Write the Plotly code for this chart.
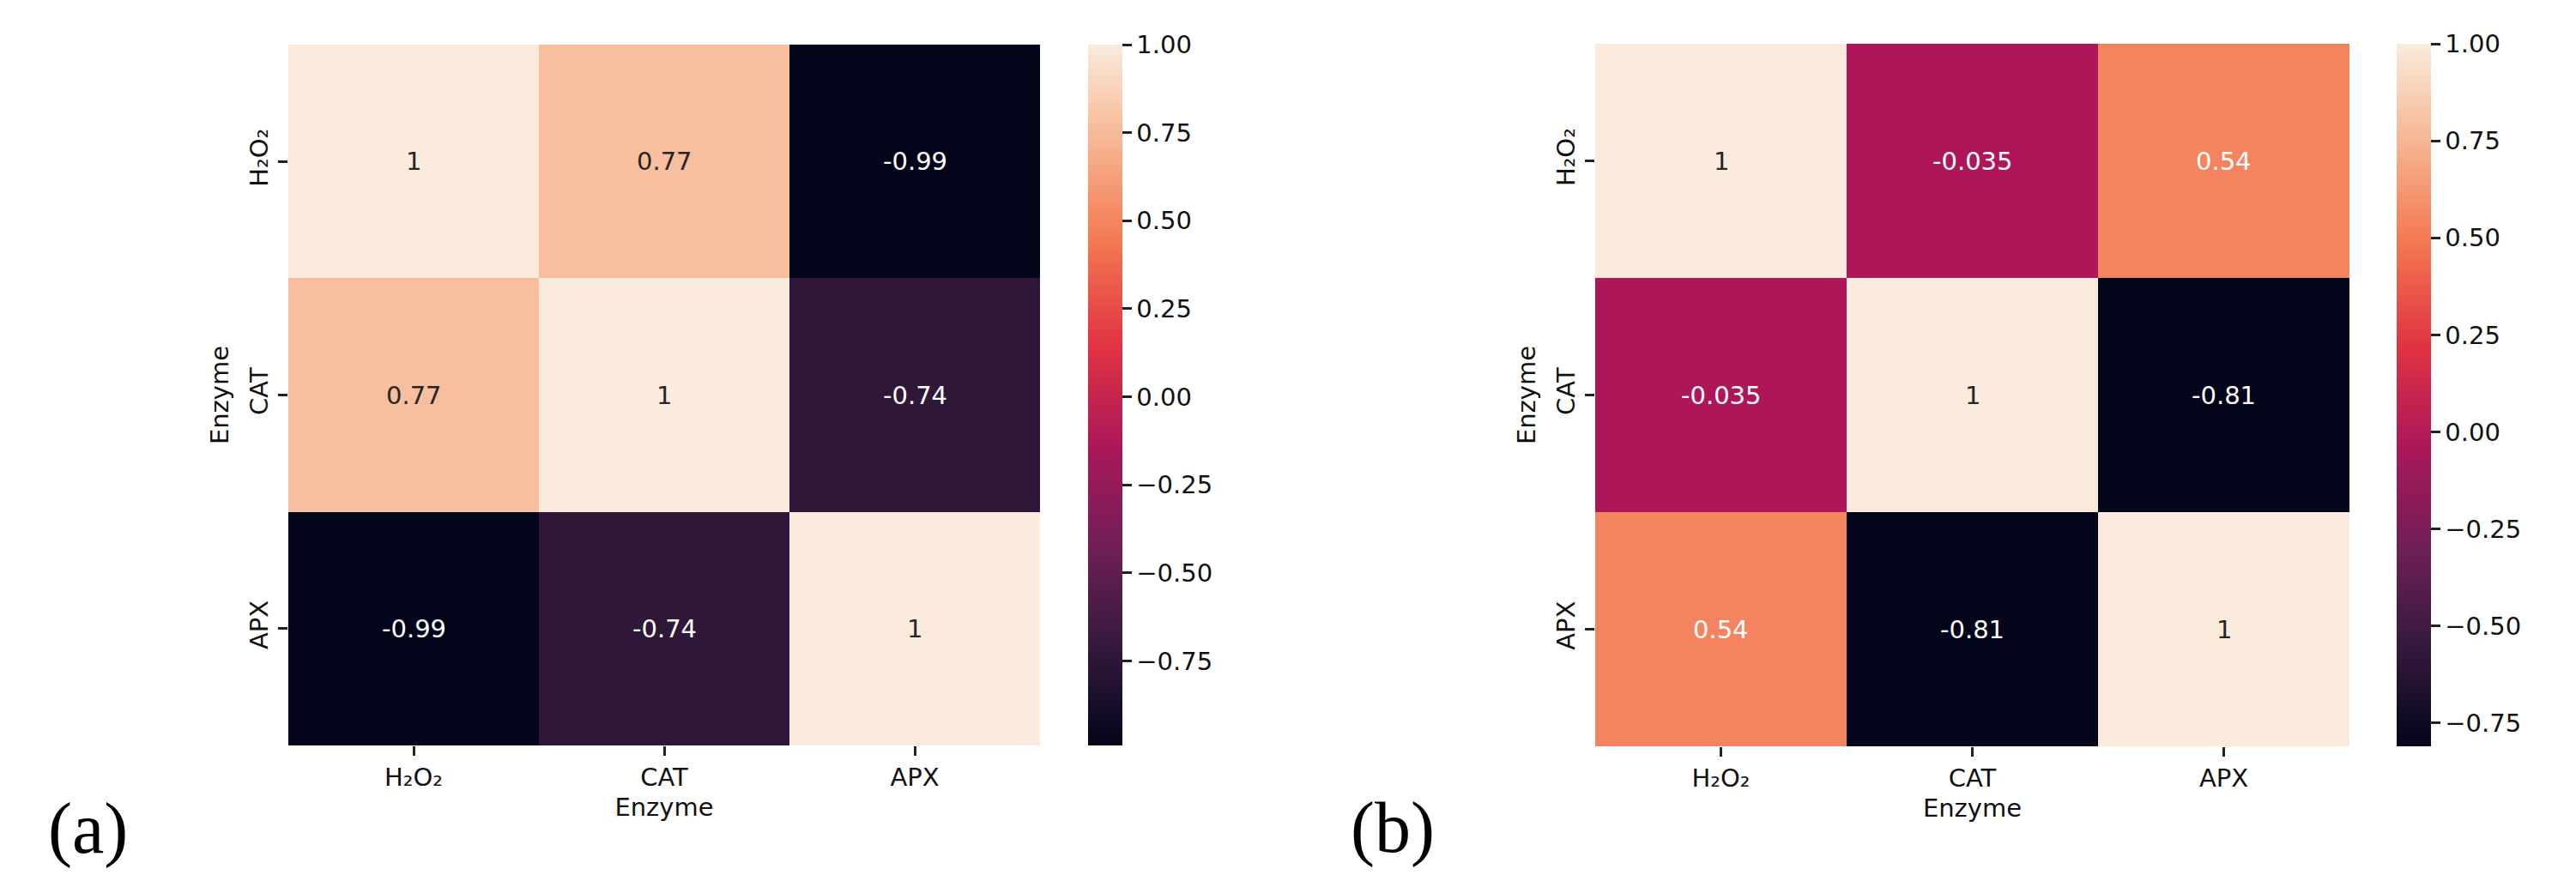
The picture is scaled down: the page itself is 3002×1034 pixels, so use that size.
import plotly.graph_objects as go

# ---------------- data ----------------
enzymes = ["H₂O₂", "CAT", "APX"]
corr_a = [[1.0, 0.77, -0.99],
          [0.77, 1.0, -0.74],
          [-0.99, -0.74, 1.0]]
corr_b = [[1.0, -0.035, 0.54],
          [-0.035, 1.0, -0.81],
          [0.54, -0.81, 1.0]]
cbar_ticks = [-0.75, -0.5, -0.25, 0.0, 0.25, 0.5, 0.75, 1.0]
panel_labels = ["(a)", "(b)"]
axis_title = "Enzyme"

# seaborn "rocket"-like colour scale
rocket_hex = ["#03051a", "#35193e", "#701f57", "#ad1759",
              "#e13342", "#f37651", "#f6b48f", "#faebdd"]
rocket = [[i / (len(rocket_hex) - 1), c] for i, c in enumerate(rocket_hex)]

W, H = 3002, 1034
FONT = "DejaVu Sans"
FS = 29


def px(x):
    return x / W


def py(y):
    return 1 - y / H


def hex_rgb(h):
    h = h.lstrip("#")
    return [int(h[i:i + 2], 16) for i in (0, 2, 4)]


def color_at(t):
    t = min(max(t, 0.0), 1.0)
    for (t0, c0), (t1, c1) in zip(rocket[:-1], rocket[1:]):
        if t <= t1:
            f = (t - t0) / (t1 - t0) if t1 > t0 else 0
            a, b = hex_rgb(c0), hex_rgb(c1)
            return [a[k] + (b[k] - a[k]) * f for k in range(3)]
    return hex_rgb(rocket[-1][1])


def luminance(rgb):
    out = []
    for v in rgb:
        v = v / 255
        out.append(v / 12.92 if v <= 0.03928 else ((v + 0.055) / 1.055) ** 2.4)
    return 0.2126 * out[0] + 0.7152 * out[1] + 0.0722 * out[2]


def fmt_tick(v):
    s = f"{v:.2f}"
    return s.replace("-", "−")


panels = [
    dict(z=corr_a, xd=(336, 1212), yd=(52, 869), cbx=1268, lab=(103, 966)),
    dict(z=corr_b, xd=(1859, 2738), yd=(51, 870), cbx=2793, lab=(1623, 965)),
]

fig = go.Figure()
annotations = []
layout = {}

for i, p in enumerate(panels):
    n = "" if i == 0 else str(i + 1)
    z = p["z"]
    flat = [v for row in z for v in row]
    zmin, zmax = min(flat), max(flat)
    top, bot = p["yd"]
    fig.add_trace(go.Heatmap(
        z=z, x=enzymes, y=enzymes,
        xaxis="x" + n, yaxis="y" + n,
        colorscale=rocket, zmin=zmin, zmax=zmax,
        colorbar=dict(
            x=px(p["cbx"]), xanchor="left", xpad=0,
            y=py((top + bot) / 2), yanchor="middle", ypad=0,
            len=bot - top, lenmode="pixels",
            thickness=40, thicknessmode="pixels",
            outlinewidth=0,
            tickvals=cbar_ticks, ticktext=[fmt_tick(v) for v in cbar_ticks],
            ticks="outside", ticklen=11, tickwidth=2.5, tickcolor="#222",
            tickfont=dict(family=FONT, size=FS, color="#111"),
        ),
        hoverinfo="skip",
    ))
    layout["xaxis" + n] = dict(
        domain=[px(p["xd"][0]), px(p["xd"][1])], anchor="y" + n,
        showgrid=False, zeroline=False, showline=False,
        ticks="outside", ticklen=11, tickwidth=2.5, tickcolor="#222",
        tickfont=dict(family=FONT, size=FS, color="#111"),
        title=dict(text=axis_title, font=dict(family=FONT, size=FS, color="#111"), standoff=8),
        automargin=False,
    )
    layout["yaxis" + n] = dict(
        domain=[py(bot), py(top)], anchor="x" + n,
        autorange="reversed",
        showgrid=False, zeroline=False, showline=False,
        ticks="outside", ticklen=11, tickwidth=2.5, tickcolor="#222",
        tickangle=-90,
        tickfont=dict(family=FONT, size=FS, color="#111"),
        title=dict(text=axis_title, font=dict(family=FONT, size=FS, color="#111"), standoff=10),
        automargin=False,
    )
    # cell annotations
    for r, yname in enumerate(enzymes):
        for c, xname in enumerate(enzymes):
            v = z[r][c]
            t = (v - zmin) / (zmax - zmin)
            col = "#262626" if luminance(color_at(t)) > 0.408 else "white"
            annotations.append(dict(
                x=xname, y=yname, xref="x" + n, yref="y" + n,
                text=f"{v:.2g}", showarrow=False,
                font=dict(family=FONT, size=FS, color=col),
            ))
    annotations.append(dict(
        x=px(p["lab"][0]), y=py(p["lab"][1]), xref="paper", yref="paper",
        text=panel_labels[i], showarrow=False,
        xanchor="center", yanchor="middle",
        font=dict(family="Liberation Serif", size=84, color="black"),
    ))

fig.update_layout(
    width=W, height=H,
    margin=dict(l=0, r=0, t=0, b=0),
    paper_bgcolor="white", plot_bgcolor="white",
    showlegend=False,
    annotations=annotations,
    **layout,
)

fig.write_html("out.html")
